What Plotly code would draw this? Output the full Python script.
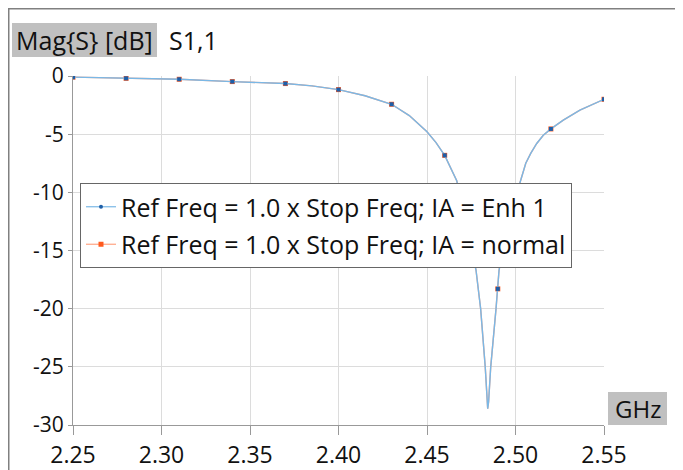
import plotly.graph_objects as go

# Curve
freq_curve = [2.25, 2.28, 2.31, 2.34, 2.37, 2.385, 2.40, 2.415, 2.43, 2.44, 2.45,
              2.455, 2.46, 2.4668, 2.472, 2.4745, 2.4777, 2.4803, 2.4829, 2.4838,
              2.4843, 2.4848, 2.486, 2.489, 2.4898, 2.4907, 2.495, 2.502, 2.5037,
              2.5058, 2.5086, 2.512, 2.5157, 2.52, 2.527, 2.5364, 2.55]
mag_curve = [-0.1, -0.2, -0.28, -0.48, -0.65, -0.85, -1.17, -1.7, -2.43, -3.4, -4.8,
             -5.7, -6.82, -9.0, -12.5, -14.3, -16.7, -20.0, -25.0, -28.0,
             -28.6, -28.0, -25.0, -20.0, -18.3, -16.7, -13.0, -9.3, -8.4,
             -7.5, -6.65, -5.8, -5.1, -4.55, -3.8, -2.93, -2.0]

# Marker points
freq_markers = [2.25, 2.28, 2.31, 2.34, 2.37, 2.40, 2.43, 2.46, 2.49, 2.52, 2.55]
mag_enh1 = [-0.1, -0.2, -0.28, -0.48, -0.65, -1.17, -2.43, -6.82, -18.3, -4.55, -2.0]
mag_normal = [-0.1, -0.2, -0.28, -0.48, -0.65, -1.17, -2.43, -6.82, -18.3, -4.55, -2.0]

name_enh1 = "Ref Freq = 1.0 x Stop Freq; IA = Enh 1"
name_normal = "Ref Freq = 1.0 x Stop Freq; IA = normal"

x_ticks = [2.25, 2.30, 2.35, 2.40, 2.45, 2.50, 2.55]
y_ticks = [0, -5, -10, -15, -20, -25, -30]

BLUE_LINE = "#7ab8e6"
BLUE_MARK = "#1f5fa8"
ORANGE_LINE = "#ffa382"
ORANGE_MARK = "#ff5a1e"
BOX_GRAY = "#c0c0c0"
FONT = "Open Sans"

# plot area geometry (figure px)
L, T, W, H = 65, 68, 531, 349
FW, FH = 675, 462


def px(xf):
    return (xf - L) / W


def py(yf):
    return 1 - (yf - T) / H


fig = go.Figure()

# orange series (underneath)
fig.add_trace(go.Scatter(x=freq_curve, y=mag_curve, mode="lines",
                         line=dict(color=ORANGE_LINE, width=1.4), showlegend=False, hoverinfo="skip"))
fig.add_trace(go.Scatter(x=freq_markers, y=mag_normal, mode="markers",
                         marker=dict(symbol="square", size=5, color=ORANGE_MARK), showlegend=False))
# blue series (on top)
fig.add_trace(go.Scatter(x=freq_curve, y=mag_curve, mode="lines",
                         line=dict(color=BLUE_LINE, width=1.4), showlegend=False, hoverinfo="skip"))
fig.add_trace(go.Scatter(x=freq_markers, y=mag_enh1, mode="markers",
                         marker=dict(symbol="square", size=4, color=BLUE_MARK), showlegend=False))

# legend entries
fig.add_trace(go.Scatter(x=[None], y=[None], mode="lines+markers", name=name_enh1,
                         legendgroup="a",
                         line=dict(color=BLUE_LINE, width=1.2),
                         marker=dict(symbol="circle", size=4, color=BLUE_MARK)))
fig.add_trace(go.Scatter(x=[None], y=[None], mode="lines+markers", name=name_normal,
                         legendgroup="b",
                         line=dict(color=ORANGE_LINE, width=1.2),
                         marker=dict(symbol="square", size=5, color=ORANGE_MARK)))

fig.update_layout(
    width=FW, height=FH,
    margin=dict(l=L, r=FW - L - W, t=T, b=FH - T - H, autoexpand=False),
    paper_bgcolor="white", plot_bgcolor="white",
    font=dict(family=FONT, color="#111111", size=21),
    showlegend=True,
    legend=dict(x=px(72), y=py(175), xanchor="left", yanchor="top",
                bgcolor="white", bordercolor="#666666", borderwidth=1,
                traceorder="grouped", tracegroupgap=2,
                font=dict(family=FONT, size=25, color="#111111")),
    xaxis=dict(range=[2.25, 2.55], tickvals=x_ticks, ticktext=[f"{v:.2f}" for v in x_ticks],
               showgrid=True, gridcolor="#dcdcdc", gridwidth=1,
               showline=True, linecolor="#999999", linewidth=1,
               ticks="outside", ticklen=9, tickcolor="#999999",
               tickfont=dict(size=23), zeroline=False, automargin=False),
    yaxis=dict(range=[-30, 0], tickvals=y_ticks, ticktext=[str(v) for v in y_ticks],
               showgrid=True, gridcolor="#dcdcdc", gridwidth=1,
               showline=True, linecolor="#999999", linewidth=1,
               ticks="outside", ticklen=4, tickcolor="#999999",
               tickfont=dict(size=21), zeroline=False, automargin=False),
    annotations=[
        dict(text="Mag{S} [dB]", xref="paper", yref="paper",
             x=px(76.5), y=py(32), xanchor="center", yanchor="middle",
             showarrow=False, font=dict(family=FONT, size=25, color="#111111")),
        dict(text="S1,1", xref="paper", yref="paper",
             x=px(159), y=py(32), xanchor="left", yanchor="middle",
             showarrow=False, font=dict(family=FONT, size=25, color="#111111")),
        dict(text="GHz", xref="paper", yref="paper",
             x=px(629.5), y=py(400.5), xanchor="center", yanchor="middle",
             showarrow=False, font=dict(family=FONT, size=24, color="#111111")),
    ],
    shapes=[
        dict(type="rect", xref="paper", yref="paper", layer="below",
             x0=px(4), x1=px(149), y0=py(15), y1=py(49),
             fillcolor=BOX_GRAY, line=dict(width=0)),
        dict(type="rect", xref="paper", yref="paper", layer="above",
             x0=px(600), x1=px(659), y0=py(384), y1=py(417),
             fillcolor=BOX_GRAY, line=dict(width=0)),
        dict(type="line", xref="paper", yref="paper",
             x0=px(0), x1=px(FW), y0=py(0.5), y1=py(0.5),
             line=dict(color="#808080", width=2)),
        dict(type="line", xref="paper", yref="paper",
             x0=px(0.5), x1=px(0.5), y0=py(0), y1=py(FH),
             line=dict(color="#808080", width=2)),
    ],
)

fig.write_html("out.html")
